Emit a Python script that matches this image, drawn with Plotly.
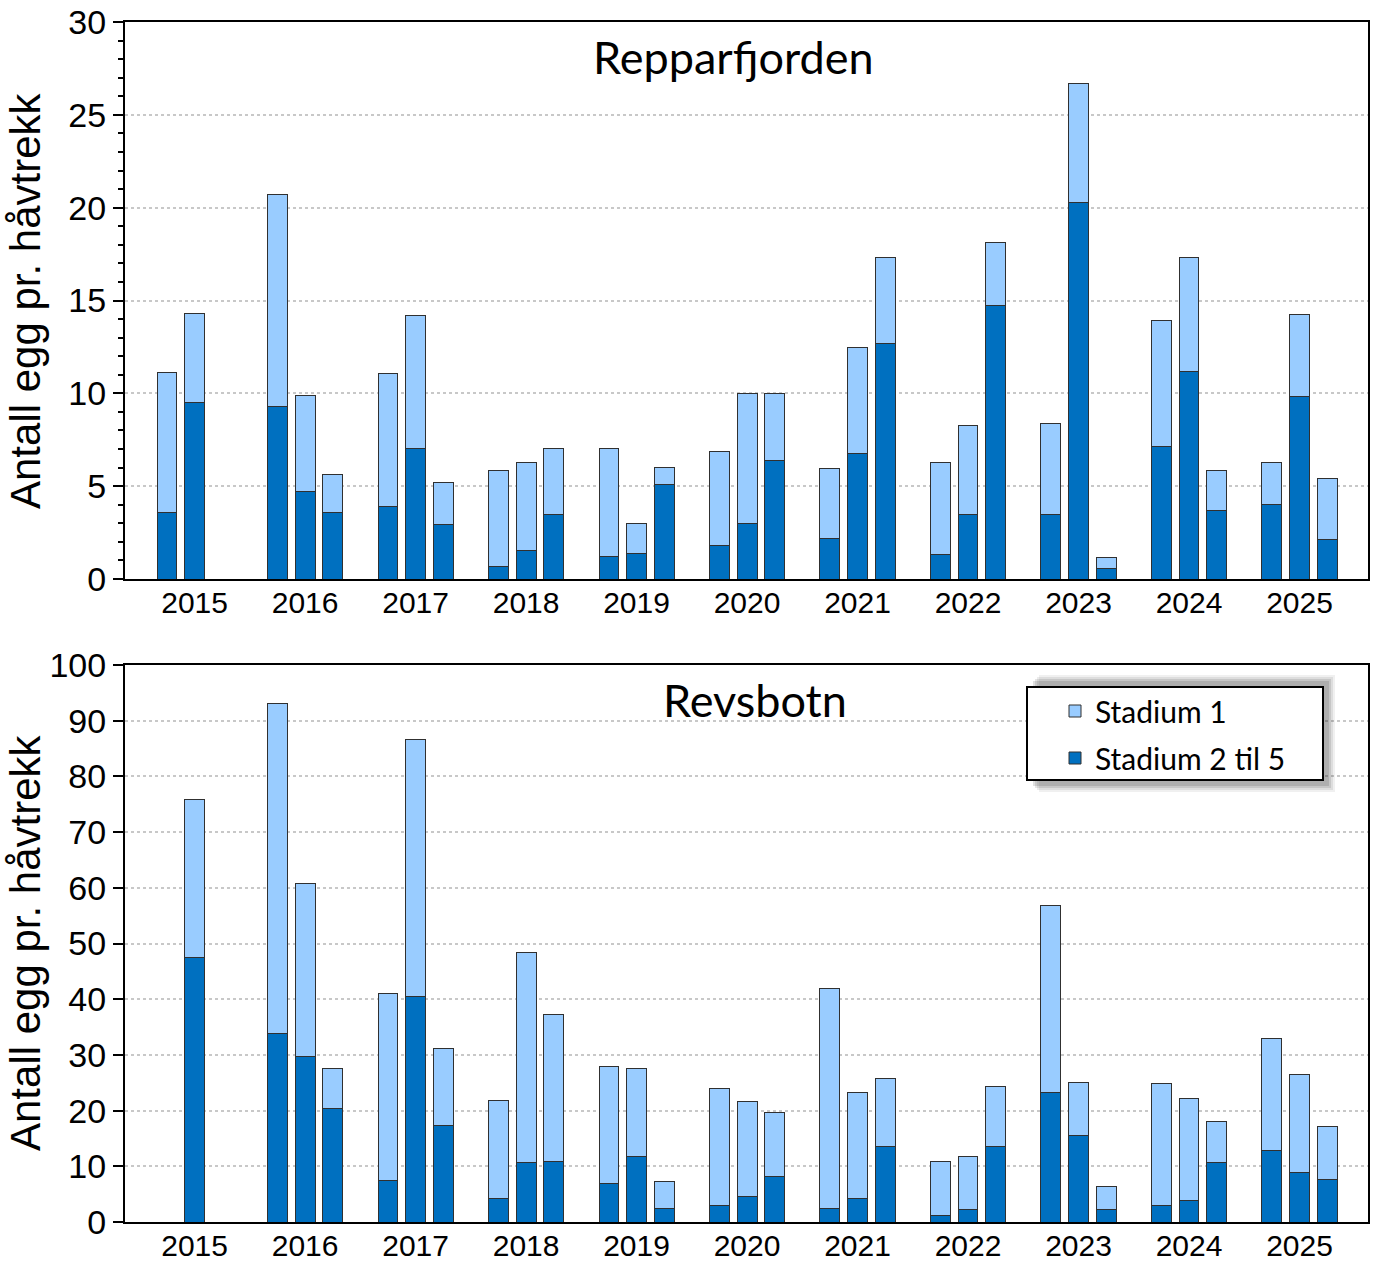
import numpy as np
import plotly.graph_objects as go

years = list(range(2015, 2026))
slots = [-0.25, 0.0, 0.25]

# Repparfjorden: total and "Stadium 2 til 5" per year, three hauls each (None = no haul)
rep_total = [11.1, 14.3, None,
             20.7, 9.9, 5.65,
             11.05, 14.2, 5.2,
             5.85, 6.3, 7.05,
             7.05, 3.0, 6.0,
             6.85, 10.0, 10.0,
             5.95, 12.45, 17.3,
             6.25, 8.25, 18.15,
             8.35, 26.7, 1.15,
             13.9, 17.3, 5.85,
             6.3, 14.25, 5.4]
rep_st25 = [3.6, 9.5, None,
            9.3, 4.7, 3.6,
            3.9, 7.05, 2.95,
            0.65, 1.55, 3.5,
            1.2, 1.4, 5.1,
            1.8, 3.0, 6.4,
            2.2, 6.75, 12.7,
            1.3, 3.45, 14.75,
            3.45, 20.3, 0.55,
            7.15, 11.15, 3.7,
            4.0, 9.85, 2.15]

# Revsbotn
rev_total = [None, 75.8, None,
             93.0, 60.7, 27.5,
             41.1, 86.6, 31.2,
             21.8, 48.3, 37.2,
             27.9, 27.5, 7.3,
             23.9, 21.7, 19.6,
             42.0, 23.3, 25.7,
             10.9, 11.7, 24.4,
             56.8, 25.0, 6.3,
             24.8, 22.1, 18.1,
             33.0, 26.4, 17.1]
rev_st25 = [None, 47.4, None,
            33.9, 29.7, 20.4,
            7.4, 40.4, 17.4,
            4.3, 10.6, 10.9,
            7.0, 11.7, 2.5,
            2.9, 4.5, 8.2,
            2.5, 4.3, 13.5,
            1.1, 2.2, 13.5,
            23.2, 15.6, 2.2,
            2.9, 3.8, 10.6,
            12.9, 8.8, 7.7]

xpos = np.repeat(years, 3) + np.tile(slots, len(years))

light = '#99CCFF'
dark = '#0070C0'
edge = dict(color='#303030', width=1)
tfont = 'Liberation Sans, Arial, sans-serif'
cfont = 'Lato, sans-serif'


def diff(tot, low):
    return [None if t is None else round(t - l, 3) for t, l in zip(tot, low)]


fig = go.Figure()
for tot, low, xa, ya, show in [(rep_total, rep_st25, 'x', 'y', False),
                               (rev_total, rev_st25, 'x2', 'y2', True)]:
    fig.add_trace(go.Bar(x=xpos, y=low, width=0.18, marker=dict(color=dark, line=edge),
                         name='Stadium 2 til 5', legendgroup='b', legendrank=2,
                         showlegend=show, xaxis=xa, yaxis=ya))
    fig.add_trace(go.Bar(x=xpos, y=diff(tot, low), width=0.18, marker=dict(color=light, line=edge),
                         name='Stadium 1', legendgroup='a', legendrank=1,
                         showlegend=show, xaxis=xa, yaxis=ya))

W, H = 1379, 1261
xdom = [125 / W, 1368 / W]
top_dom = [(H - 579) / H, (H - 22) / H]
bot_dom = [(H - 1222) / H, (H - 665) / H]

xcommon = dict(range=[2014.37, 2025.62], tickvals=years, ticktext=[str(y) for y in years],
               ticks='', showline=True, linecolor='black', linewidth=2, mirror=True,
               showgrid=False, zeroline=False, automargin=False, ticklabelstandoff=-4,
               tickfont=dict(family=tfont, size=30, color='black'), domain=xdom)
ycommon = dict(showline=True, linecolor='black', linewidth=2, mirror=True,
               ticks='outside', ticklen=10, tickwidth=2, tickcolor='black',
               showgrid=True, gridcolor='#c8c8c8', griddash='dot', gridwidth=1.5,
               zeroline=False, automargin=False,
               tickfont=dict(family=tfont, size=34, color='black'))

fig.update_layout(
    width=W, height=H,
    margin=dict(l=0, r=0, t=0, b=0, autoexpand=False),
    paper_bgcolor='white', plot_bgcolor='white',
    barmode='stack',
    xaxis=dict(xcommon, anchor='y'),
    yaxis=dict(ycommon, domain=top_dom, anchor='x', range=[0, 30], dtick=5,
               minor=dict(dtick=1, ticks='outside', ticklen=5, tickwidth=2,
                          tickcolor='black', showgrid=False)),
    xaxis2=dict(xcommon, anchor='y2'),
    yaxis2=dict(ycommon, domain=bot_dom, anchor='x2', range=[0, 100], dtick=10),
    legend=dict(x=1055 / W, y=(H - 685) / H, xanchor='left', yanchor='top',
                bgcolor='rgba(0,0,0,0)', borderwidth=0,
                font=dict(family=cfont, size=30, color='black'),
                traceorder='grouped', tracegroupgap=5, itemwidth=30),
    showlegend=True,
)

# legend frame with a soft shadow
for off, alpha in [(12, 0.06), (10, 0.08), (8, 0.10), (6, 0.12)]:
    fig.add_shape(type='rect', xref='paper', yref='paper',
                  x0=(1027 + off) / W, x1=(1323 + off) / W,
                  y0=(H - 780 - off) / H, y1=(H - 687 + off) / H,
                  fillcolor='rgba(0,0,0,%.2f)' % alpha, line=dict(width=0), layer='above')
fig.add_shape(type='rect', xref='paper', yref='paper',
              x0=1027 / W, x1=1323 / W, y0=(H - 780) / H, y1=(H - 687) / H,
              fillcolor='white', line=dict(color='black', width=2), layer='above')

fig.add_annotation(text='Repparfjorden', x=733 / W, y=(H - 57) / H, xref='paper', yref='paper',
                   xanchor='center', yanchor='middle', showarrow=False,
                   font=dict(family=cfont, size=45, color='black'))
fig.add_annotation(text='Revsbotn', x=755 / W, y=(H - 700) / H, xref='paper', yref='paper',
                   xanchor='center', yanchor='middle', showarrow=False,
                   font=dict(family=cfont, size=45, color='black'))
for yc in [301, 943]:
    fig.add_annotation(text='Antall egg pr. håvtrekk', x=25 / W, y=(H - yc) / H,
                       xref='paper', yref='paper', xanchor='center', yanchor='middle',
                       textangle=-90, showarrow=False,
                       font=dict(family=tfont, size=42, color='black'))

fig.write_html('out.html', config={'displayModeBar': False},
               post_script="document.body.style.margin='0';")
